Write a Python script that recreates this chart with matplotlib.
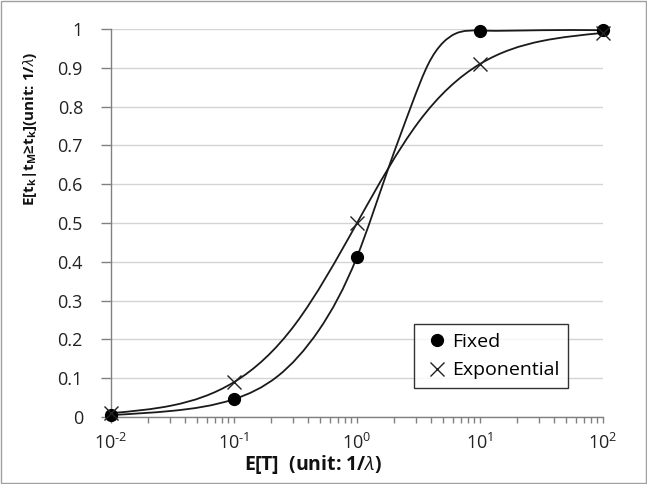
import numpy as np
import matplotlib
matplotlib.use("Agg")
import matplotlib.pyplot as plt
from matplotlib.path import Path
from matplotlib.patches import PathPatch
from matplotlib.lines import Line2D

# marker values
et = [0.01, 0.1, 1, 10, 100]
fixed = [0.005, 0.046, 0.413, 0.996, 0.997]
expo = [0.01, 0.09, 0.5, 0.91, 0.99]

# points (x as E[T])
fixed_cx = [0.01, 0.0316, 0.1, 0.226, 0.49, 1, 1.78, 2.82, 3.8, 5.0, 6.3, 10, 31.6, 100]
fixed_cy = [0.005, 0.016, 0.046, 0.105, 0.224, 0.413, 0.637, 0.81, 0.91, 0.965, 0.988, 0.996, 0.997, 0.997]
expo_cx = [0.01, 0.0316, 0.1, 0.316, 1, 3.16, 10, 31.6, 100]
expo_cy = [0.01, 0.03, 0.09, 0.24, 0.5, 0.76, 0.91, 0.969, 0.99]

ytick_vals = [0, 0.1, 0.2, 0.3, 0.4, 0.5, 0.6, 0.7, 0.8, 0.9, 1]
ytick_labels = ['0', '0.1', '0.2', '0.3', '0.4', '0.5', '0.6', '0.7', '0.8', '0.9', '1']
xtick_labels = ['10$^{\u20102}$', '10$^{\u20101}$', '10$^{0}$', '10$^{1}$', '10$^{2}$']

plt.rcParams['font.family'] = ['Open Sans', 'DejaVu Sans']
plt.rcParams['mathtext.fontset'] = 'custom'
plt.rcParams['mathtext.rm'] = 'Open Sans'
plt.rcParams['mathtext.it'] = 'Open Sans:italic'
plt.rcParams['mathtext.bf'] = 'Open Sans:bold'


def smooth_path(xs, ys):
    # natural cubic spline through the points in log-x space, as bezier segments
    x = np.log10(xs)
    y = np.asarray(ys, float)
    n = len(x)
    h = np.diff(x)
    d = np.diff(y) / h
    A = np.zeros((n, n))
    b = np.zeros(n)
    A[0, 0], A[0, 1], b[0] = 2, 1, 3 * d[0]
    A[-1, -2], A[-1, -1], b[-1] = 1, 2, 3 * d[-1]
    for i in range(1, n - 1):
        A[i, i - 1] = h[i]
        A[i, i] = 2 * (h[i - 1] + h[i])
        A[i, i + 1] = h[i - 1]
        b[i] = 3 * (h[i] * d[i - 1] + h[i - 1] * d[i])
    m = np.linalg.solve(A, b)
    verts = [(x[0], y[0])]
    codes = [Path.MOVETO]
    for i in range(n - 1):
        verts += [(x[i] + h[i] / 3, y[i] + m[i] * h[i] / 3),
                  (x[i + 1] - h[i] / 3, y[i + 1] - m[i + 1] * h[i] / 3),
                  (x[i + 1], y[i + 1])]
        codes += [Path.CURVE4] * 3
    return Path(verts, codes)


fig = plt.figure(figsize=(6.47, 4.84), dpi=100)
ax = fig.add_axes([0.1716, 0.1384, 0.932 - 0.1716, 0.940 - 0.1384])
ax.set_xscale('log')
ax.set_xlim(0.01, 100)
ax.set_ylim(0, 1)

tr = ax.transLimits + ax.transAxes
for cx, cy in ((fixed_cx, fixed_cy), (expo_cx, expo_cy)):
    ax.add_patch(PathPatch(smooth_path(cx, cy), transform=tr, fill=False,
                           edgecolor='#1a1a1a', lw=1.3, zorder=3, clip_on=False))

ax.plot(et, fixed, ls='none', marker='o', ms=8.5, color='black', zorder=4, clip_on=False)
ax.plot(et, expo, ls='none', marker='x', ms=10, mew=1.0, color='#222222', zorder=4,
        clip_on=False)

ax.set_yticks(ytick_vals)
ax.set_yticklabels(ytick_labels)
ax.set_xticks(et)
ax.set_xticklabels(xtick_labels)
ax.grid(axis='y', color='#d4d4d4', lw=1.0)
ax.set_axisbelow(True)

for s in ('top', 'right'):
    ax.spines[s].set_visible(False)
for s in ('left', 'bottom'):
    ax.spines[s].set_color('#808080')
    ax.spines[s].set_linewidth(1.0)
ax.tick_params(axis='both', which='both', color='#808080', width=1,
               labelsize=13, labelcolor='#222222')
ax.tick_params(axis='y', length=7.2, pad=13)
ax.tick_params(axis='x', which='both', length=4.3, pad=7)

fig.text(313 / 647, 1 - 465 / 484, r'E[T]  (unit: 1/$\lambda$)', fontsize=14,
         fontweight='bold', color='#111111', ha='center', va='center')
fig.text(30 / 647, 1 - 129 / 484,
         r'E[t$_\mathbf{k}$|t$_\mathbf{M}$≥t$_\mathbf{k}$](unit: 1/$\lambda$)',
         rotation=90, ha='center', va='center', fontsize=11, fontweight='bold',
         color='#111111')

handles = [Line2D([], [], ls='none', marker='o', ms=8.5, color='black'),
           Line2D([], [], ls='none', marker='x', ms=10, mew=1.0, color='#222222')]
leg = ax.legend(handles, ['Fixed', 'Exponential'], loc='upper left',
                bbox_to_anchor=((414 - 111) / 492, (417 - 324) / 388),
                frameon=True, fancybox=False,
                fontsize=14, handlelength=1.45, handletextpad=0.05,
                labelspacing=0.55, borderpad=0.45, borderaxespad=0)
leg.get_frame().set_edgecolor('black')
leg.get_frame().set_linewidth(1.0)

# thin border round the whole picture
fig.patches.append(plt.Rectangle((0.002, 0.002), 0.996, 0.996, transform=fig.transFigure,
                                 fill=False, edgecolor='#a0a0a0', lw=1))

fig.savefig('out.png', dpi=100)
